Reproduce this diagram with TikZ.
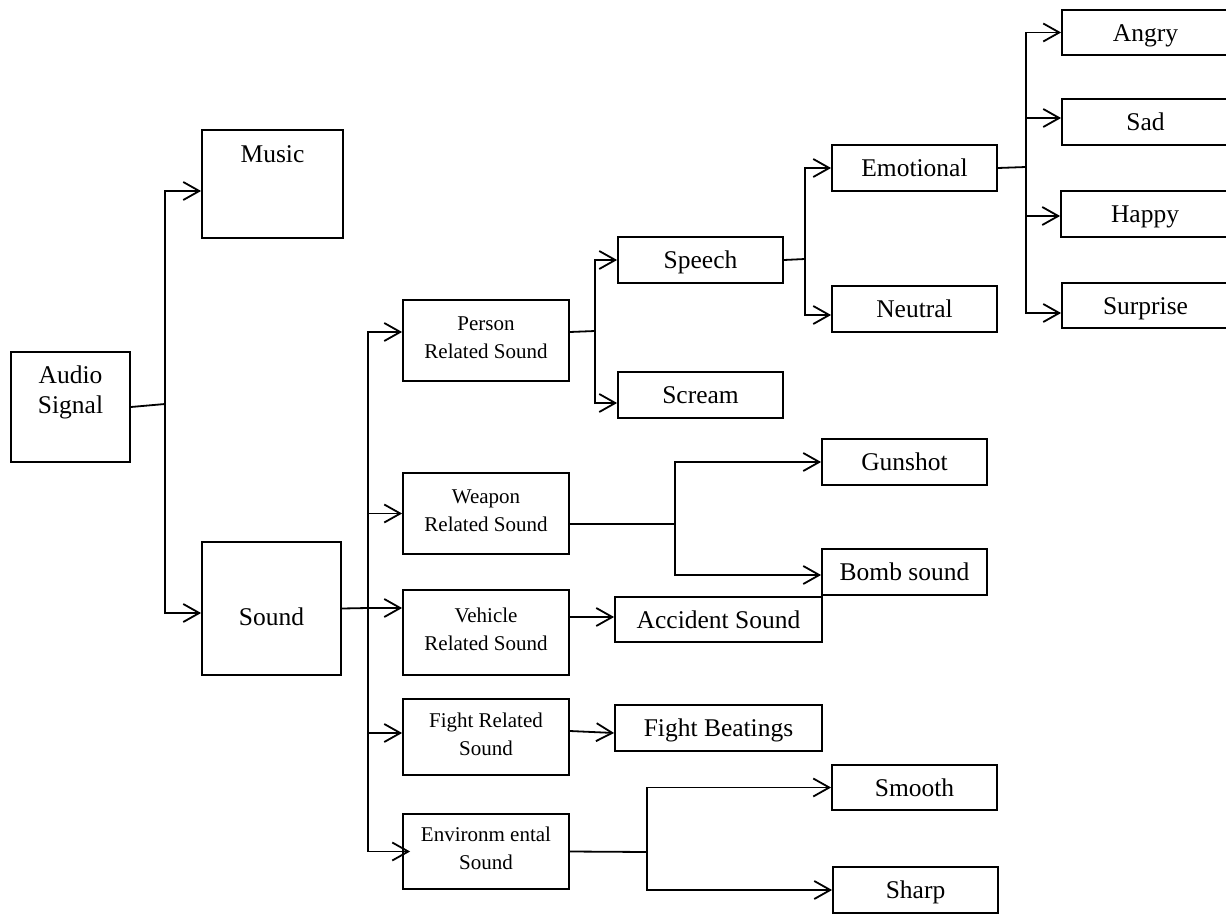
\documentclass[tikz,border=0pt]{standalone}
\usepackage{fontspec}
\setmainfont{Liberation Serif}
\usetikzlibrary{arrows.meta}
\newcommand\mybox[7][box]{%
  \pgfmathsetmacro\myBW{(#5-#3)*0.5}%
  \pgfmathsetmacro\myBH{(#6-#4)*0.5}%
  \node[#1, minimum width=\myBW pt, minimum height=\myBH pt] (#2) at ({(#3+#5)/2},{(#4+#6)/2}) {#7};}
\begin{document}
\begin{tikzpicture}[x=0.5pt,y=-0.5pt,
  base/.style={draw, line width=0.9pt, inner sep=0pt, align=center},
  box/.style={base, font=\fontsize{12.75}{15}\selectfont, text height=10pt, text depth=1.4pt},
  sbox/.style={base, font=\fontsize{10.5}{14}\selectfont},
  lbl/.style={inner sep=0pt, align=center, font=\fontsize{12.75}{15}\selectfont},
  slbl/.style={inner sep=0pt, align=center, font=\fontsize{10.5}{14}\selectfont},
  conn/.style={line width=0.9pt},
  arr/.style={conn, -{Straight Barb[length=8pt,width=9pt]}}]
\useasboundingbox (0,0) rectangle (1226,915);
\clip (0,0) rectangle (1226,915);

% boxes
\mybox[base]{audio}{11}{352}{130}{462}{}
\node[lbl] (audiolbl) at ([yshift=7.5pt]audio.center) {Audio\\Signal};
\mybox[base]{music}{202}{130}{343}{238}{}
\node[lbl, anchor=north] (musiclbl) at ([yshift=-8pt]music.north) {Music};
\mybox[base]{sound}{202}{542}{341}{675}{}
\node[lbl] (soundlbl) at ([yshift=-4pt]sound.center) {Sound};

\mybox[sbox]{person}{403}{300}{569}{381}{}
\node[slbl] (personlbl) at ([yshift=1.5pt]person.center) {Person\\Related Sound};
\mybox[sbox]{weapon}{403}{473}{569}{554}{}
\node[slbl] (weaponlbl) at ([yshift=1.5pt]weapon.center) {Weapon\\Related Sound};
\mybox[sbox]{vehicle}{403}{590}{569}{675}{}
\node[slbl] (vehiclelbl) at ([yshift=1.5pt]vehicle.center) {Vehicle\\Related Sound};
\mybox[sbox]{fight}{403}{699}{569}{775}{}
\node[slbl] (fightlbl) at ([yshift=1.5pt]fight.center) {Fight Related\\Sound};
\mybox[sbox]{env}{403}{814}{569}{889}{}
\node[slbl] (envlbl) at ([yshift=1.5pt]env.center) {Environm ental\\Sound};

\mybox{speech}{618}{237}{783}{283}{Speech}
\mybox{scream}{618}{372}{783}{418}{Scream}
\mybox{emotional}{832}{145}{997}{191}{Emotional}
\mybox{neutral}{832}{286}{997}{332}{Neutral}
\mybox{angry}{1062}{10}{1229}{55}{Angry}
\mybox{sad}{1062}{99}{1229}{145}{Sad}
\mybox{happy}{1061}{191}{1229}{237}{Happy}
\mybox{surprise}{1062}{283}{1229}{328}{Surprise}

\mybox{gunshot}{822}{439}{987}{485}{Gunshot}
\mybox{bomb}{822}{549}{987}{595}{Bomb sound}
\mybox{accident}{615}{597}{822}{642}{Accident Sound}
\mybox{beat}{615}{705}{822}{751}{Fight Beatings}
\mybox{smooth}{832}{765}{997}{810}{Smooth}
\mybox{sharp}{833}{867}{998}{913}{Sharp}

% junctions
\coordinate (jA) at (165,404);
\coordinate (jS) at (368,608);
\coordinate (jP) at (595,331);
\coordinate (jSp) at (805,259);
\coordinate (jE) at (1026,167);
\coordinate (jW) at (675,524);
\coordinate (jEn) at (647,852);

% connectors
\draw[conn] (audio.east) -- (jA);
\draw[arr] (jA) |- ([yshift=-3.5pt]music.west);
\draw[arr] (jA) |- ([yshift=-2.25pt]sound.west);

\draw[conn] (sound.east) -- (jS);
\draw[arr] (jS) |- ([yshift=4.25pt]person.west);
\draw[arr] (jS) |- (weapon.west);
\draw[arr] (jS) -- (vehicle.west |- jS);
\draw[arr] (jS) |- ([yshift=2pt]fight.west);
\draw[arr] (jS) |- ([xshift=4pt]env.west);

\draw[conn] ([yshift=4.25pt]person.east) -- (jP);
\draw[arr] (jP) |- (speech.west);
\draw[arr] (jP) |- ([yshift=-4pt]scream.west);

\draw[conn] (speech.east) -- (jSp);
\draw[arr] (jSp) |- (emotional.west);
\draw[arr] (jSp) |- ([yshift=-3pt]neutral.west);

\draw[conn] (emotional.east) -- (jE);
\draw[arr] (jE) |- (angry.west);
\draw[arr] (jE) |- ([yshift=2pt]sad.west);
\draw[arr] (jE) |- ([yshift=-1pt]happy.west);
\draw[arr] (jE) |- ([yshift=-3.75pt]surprise.west);

\draw[conn] ([yshift=-5.25pt]weapon.east) -- (jW);
\draw[arr] (jW) |- (gunshot.west);
\draw[arr] (jW) |- ([yshift=-1.5pt]bomb.west);

\draw[arr] ([yshift=7.75pt]vehicle.east) -- ([yshift=1.25pt]accident.west);
\draw[arr] ([yshift=3pt]fight.east) -- ([yshift=-2.5pt]beat.west);

\draw[conn] (env.east) -- (jEn);
\draw[arr] (jEn) |- (smooth.west);
\draw[arr] (jEn) |- (sharp.west);
\end{tikzpicture}
\end{document}
